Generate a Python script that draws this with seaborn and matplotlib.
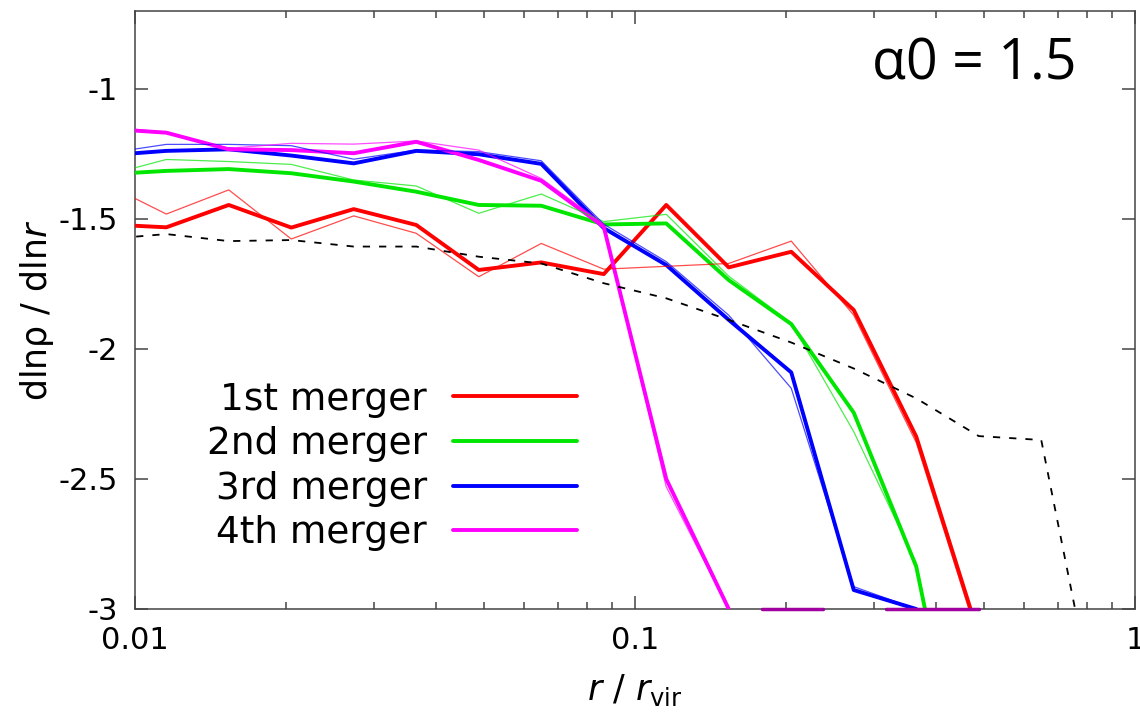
import numpy as np
import pandas as pd
import matplotlib
matplotlib.use("Agg")
import matplotlib.pyplot as plt
import seaborn as sns
from matplotlib.ticker import FixedLocator, LogLocator, NullFormatter, FuncFormatter

# radial bins r / r_vir (bin centres, 0.125 dex apart)
r_bins = [0.00866, 0.01155, 0.01540, 0.02054, 0.02738, 0.03652, 0.04870, 0.06494,
          0.08660, 0.11548, 0.15399, 0.20535, 0.27384, 0.36517, 0.48697, 0.64938, 0.86596]

nan = np.nan
# bold lines
m1_bold = [-1.520, -1.532, -1.446, -1.533, -1.462, -1.523, -1.696, -1.667, -1.712,
           -1.446, -1.686, -1.626, -1.850, -2.337, -3.10, nan, nan]
m2_bold = [-1.329, -1.315, -1.308, -1.324, -1.356, -1.395, -1.446, -1.449, -1.521,
           -1.517, -1.735, -1.904, -2.245, -2.837, -4.00, nan, nan]
m3_bold = [-1.256, -1.238, -1.232, -1.256, -1.286, -1.238, -1.251, -1.288, -1.535,
           -1.677, -1.888, -2.090, -2.927, -3.000, nan, nan, nan]
m4_bold = [-1.152, -1.168, -1.232, -1.235, -1.247, -1.203, -1.273, -1.353, -1.530,
           -2.500, -3.000, nan, nan, nan, nan, nan, nan]
# thin lines
m1_thin = [-1.361, -1.481, -1.388, -1.577, -1.488, -1.555, -1.722, -1.594, -1.693,
           -1.682, -1.671, -1.585, -1.870, -2.360, -3.12, nan, nan]
m2_thin = [-1.335, -1.271, -1.279, -1.290, -1.350, -1.373, -1.478, -1.404, -1.510,
           -1.482, -1.720, -1.900, -2.318, -2.823, -4.00, nan, nan]
m3_thin = [-1.249, -1.213, -1.213, -1.218, -1.270, -1.235, -1.241, -1.276, -1.520,
           -1.664, -1.870, -2.151, -2.914, -3.000, nan, nan, nan]
m4_thin = [-1.142, -1.168, -1.228, -1.209, -1.212, -1.200, -1.235, -1.344, -1.520,
           -2.530, -3.000, nan, nan, nan, nan, nan, nan]
# dashed reference profile
ref_dash = [-1.578, -1.558, -1.585, -1.581, -1.606, -1.606, -1.645, -1.671, -1.747,
            -1.805, -1.888, -1.975, -2.075, -2.190, -2.335, -2.350, -3.550]

# 4th-merger pieces lying on the lower border
floor_r = [0.1795, 0.2377, 0.3177, 0.4875]
floor_y = [-3.0, -3.0, -3.0, -3.0]
floor_unit = [0, 0, 1, 1]

labels = ["1st merger", "2nd merger", "3rd merger", "4th merger"]
colors = ["#ff0000", "#00e600", "#0000ff", "#ff00ff"]

sns.set_theme(style="ticks")
plt.rcParams['font.family'] = ['DejaVu Sans']
plt.rcParams['axes.unicode_minus'] = False
plt.rcParams['mathtext.fontset'] = 'dejavusans'
plt.rcParams['text.color'] = 'black'
plt.rcParams['axes.labelcolor'] = 'black'
plt.rcParams['xtick.labelcolor'] = 'black'
plt.rcParams['ytick.labelcolor'] = 'black'
plt.rcParams['legend.labelcolor'] = 'black'

fig = plt.figure(figsize=(11.4, 7.2), dpi=100)
ax = fig.add_axes([135 / 1140, 1 - 609 / 720, 1000 / 1140, 598 / 720])

bold_handles = []
for vals, c in zip([m1_bold, m2_bold, m3_bold, m4_bold], colors):
    sns.lineplot(x=r_bins, y=vals, ax=ax, color=c, lw=2.8, estimator=None, sort=False, zorder=3)
    bold_handles.append(ax.lines[-1])
for vals, c in zip([m1_thin, m2_thin, m3_thin, m4_thin], colors):
    sns.lineplot(x=r_bins, y=vals, ax=ax, color=c, lw=0.9, alpha=0.7, estimator=None, sort=False, zorder=4)
sns.lineplot(x=r_bins, y=ref_dash, ax=ax, color="black", lw=1.3, estimator=None, sort=False,
             dashes=False, zorder=5)
ax.lines[-1].set_dashes((4, 5))

floor_df = pd.DataFrame({"r": floor_r, "y": floor_y, "u": floor_unit})
sns.lineplot(data=floor_df, x="r", y="y", units="u", estimator=None, ax=ax, color="#a000a0",
             lw=2.5, zorder=6, clip_on=False)

ax.set_xscale("log")
ax.set_xlim(0.01, 1)
ax.set_ylim(-3, -0.7)
ax.xaxis.set_major_locator(FixedLocator([0.01, 0.1, 1]))
ax.xaxis.set_major_formatter(FuncFormatter(lambda v, p: f"{v:g}"))
ax.xaxis.set_minor_locator(LogLocator(base=10, subs=np.arange(2, 10)))
ax.xaxis.set_minor_formatter(NullFormatter())
ax.yaxis.set_major_locator(FixedLocator([-3, -2.5, -2, -1.5, -1]))
ax.yaxis.set_major_formatter(FuncFormatter(lambda v, p: f"{v:g}"))
ax.yaxis.set_minor_locator(FixedLocator([]))

spine_c = "#444444"
for s in ax.spines.values():
    s.set_color(spine_c)
    s.set_linewidth(1.1)
    s.set_visible(True)
ax.tick_params(which="both", direction="in", top=True, right=True, color=spine_c, width=1.1,
               labelsize=22, labelcolor="black")
ax.tick_params(which="major", length=9.5)
ax.tick_params(which="minor", length=4.8)
ax.tick_params(axis="y", pad=12)
ax.tick_params(axis="x", pad=12)

ax.set_xlabel(r"$r$ / $r_{\rm vir}$", fontsize=25, color="black")
ax.xaxis.label.set_va("center")
ax.xaxis.set_label_coords(0.5, (609 - 690) / 598)
ax.set_ylabel(r"dlnρ / dln$r$", fontsize=25, color="black")
ax.yaxis.label.set_va("center")
ax.yaxis.set_label_coords((37 - 135) / 1000, 0.5)

ax.legend(bold_handles, labels, loc="center right", bbox_to_anchor=(0.442, (609 - 466.5) / 598),
          frameon=False, markerfirst=False, fontsize=27, handlelength=3.3, handletextpad=0.7,
          labelspacing=0.23, borderpad=0, borderaxespad=0, labelcolor="black")

fig.text(872 / 1140, 1 - 80 / 720, "α0 = 1.5", fontsize=40, family=["Open Sans", "DejaVu Sans"],
         ha="left", va="baseline", color="black")

fig.savefig("out.png", dpi=100)
